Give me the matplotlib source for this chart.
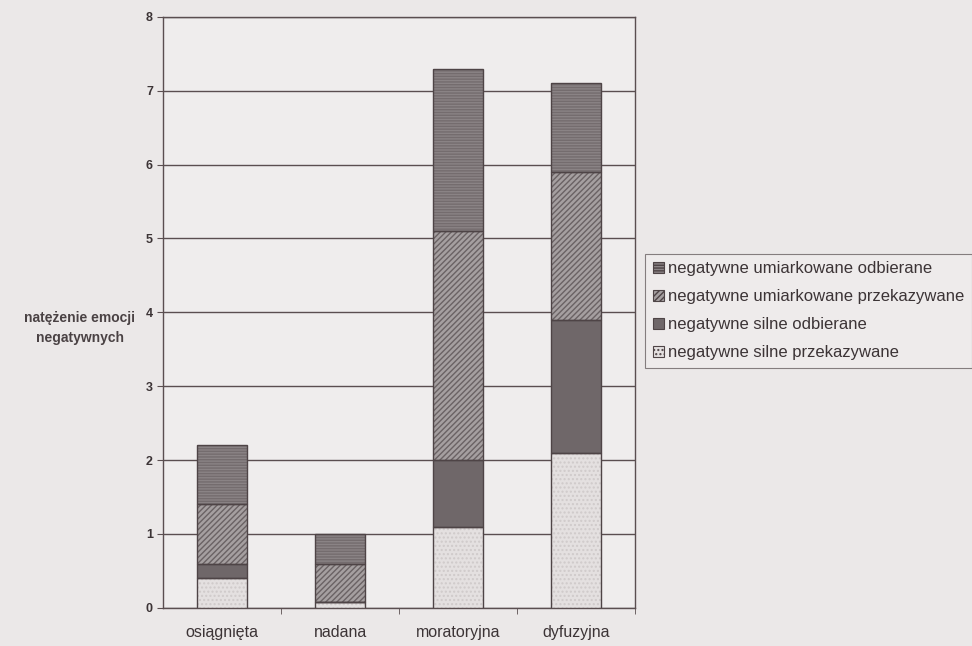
import numpy as np
import matplotlib
matplotlib.use("Agg")
import matplotlib.pyplot as plt
import matplotlib.patches as mpatches

# dane
categories = ["osiągnięta", "nadana", "moratoryjna", "dyfuzyjna"]
silne_przek = [0.4, 0.08, 1.1, 2.1]
silne_odb = [0.2, 0.0, 0.9, 1.8]
umiark_przek = [0.8, 0.52, 3.1, 2.0]
umiark_odb = [0.8, 0.4, 2.2, 1.2]

series = [silne_przek, silne_odb, umiark_przek, umiark_odb]
names = ["negatywne silne przekazywane", "negatywne silne odbierane",
         "negatywne umiarkowane przekazywane", "negatywne umiarkowane odbierane"]
faces = ["#e4e0e0", "#6f6769", "#a59fa0", "#8a8385"]
hatches = ["....", None, "//////", "------"]
hcols = ["#cfcaca", "#6f6769", "#6a6264", "#746c6e"]

plt.rcParams['font.family'] = ['Liberation Sans', 'DejaVu Sans']

fig = plt.figure(figsize=(9.72, 6.46), dpi=100, facecolor="#ebe8e8")
ax = fig.add_axes([0.168, 0.059, 0.485, 0.915])
ax.set_facecolor("#efeded")

x = np.arange(len(categories))
w = 0.42
bottom = np.zeros(len(categories))
for vals, fc, hc, hcol in zip(series, faces, hatches, hcols):
    vals = np.array(vals)
    ax.bar(x, vals, w, bottom=bottom, color=fc, hatch=hc, edgecolor=hcol,
           linewidth=0, zorder=3)
    ax.bar(x, vals, w, bottom=bottom, fill=False, edgecolor="#4e4446",
           linewidth=1.0, zorder=4)
    bottom += vals

# legenda w odwrotnej kolejności
leg_h = []
for fc, hc, nm in zip(faces[::-1], hatches[::-1], names[::-1]):
    leg_h.append(mpatches.Patch(facecolor=fc, hatch=hc, edgecolor="#4e4446",
                                label=nm, linewidth=0.8))

leg = fig.legend(handles=leg_h, loc="center left", bbox_to_anchor=(0.6636, 0.519),
                 fontsize=12, handlelength=0.7, handleheight=0.7, handletextpad=0.25,
                 labelspacing=0.78, frameon=True, fancybox=False, borderpad=0.45,
                 borderaxespad=0, labelcolor="#3c3436")
leg.get_frame().set_edgecolor("#6a6264")
leg.get_frame().set_facecolor("#efeded")
leg.get_frame().set_linewidth(0.8)

ax.set_ylim(0, 8)
ax.set_xlim(-0.5, 3.5)
ax.set_yticks(range(0, 9))
ax.yaxis.grid(True, color="#5a4e50", linewidth=1.0, zorder=1)
ax.set_axisbelow(True)
ax.set_xticks(x)
ax.set_xticklabels(categories, fontsize=11.5, color="#3c3436")
ax.tick_params(axis="x", length=0, pad=12)
ax.set_xticks(np.arange(0.5, 3.6, 1.0), minor=True)
ax.tick_params(axis="x", which="minor", length=4, color="#5a4e50")
ax.tick_params(axis="y", length=4, color="#5a4e50", labelsize=9, labelcolor="#3c3436")
for lab in ax.get_yticklabels():
    lab.set_fontweight("bold")
for s in ["left", "bottom", "right", "top"]:
    ax.spines[s].set_color("#5a4e50")
    ax.spines[s].set_linewidth(1.0)

fig.text(0.082, 0.492, "natężenie emocji\nnegatywnych", ha="center", va="center",
         fontsize=10, fontweight="bold", color="#4a4244", linespacing=1.5)

fig.savefig("out.png", dpi=100, facecolor=fig.get_facecolor())
